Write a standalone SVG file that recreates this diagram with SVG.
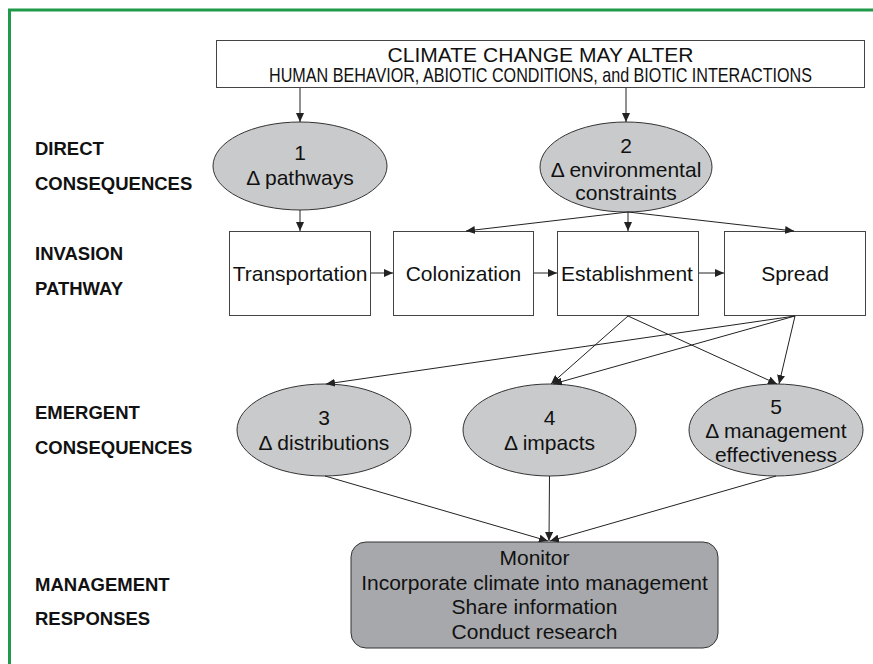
<svg xmlns="http://www.w3.org/2000/svg" width="873" height="664" viewBox="0 0 873 664">
<style>
  .lbl{font-family:"Liberation Sans",Arial,sans-serif;font-weight:bold;font-size:18.5px;fill:#111}
  .t{font-family:"Liberation Sans",Arial,sans-serif;font-size:21px;fill:#111;text-anchor:middle}
  .box{fill:#fff;stroke:#444;stroke-width:1}
  .ell{fill:#c9cacc;stroke:#333;stroke-width:1}
  .mgmt{fill:#a7a8ab;stroke:#333;stroke-width:1}
  .con line{stroke:#222;stroke-width:1;fill:none;marker-end:url(#ah)}
</style>
<defs>
  <marker id="ah" markerUnits="userSpaceOnUse" markerWidth="10" markerHeight="8" refX="9" refY="4" orient="auto">
    <path d="M0,0 L9,4 L0,8 z" fill="#222"/>
  </marker>
</defs>
<rect width="873" height="664" fill="#fff"/>
<path d="M9.5,664 V10 H873" fill="none" stroke="#1f9a4b" stroke-width="3"/>

<g id="labels">
  <text class="lbl" x="35" y="155">DIRECT</text>
  <text class="lbl" x="35" y="190">CONSEQUENCES</text>
  <text class="lbl" x="35" y="260">INVASION</text>
  <text class="lbl" x="35" y="295">PATHWAY</text>
  <text class="lbl" x="35" y="419">EMERGENT</text>
  <text class="lbl" x="35" y="454">CONSEQUENCES</text>
  <text class="lbl" x="35" y="591">MANAGEMENT</text>
  <text class="lbl" x="35" y="625">RESPONSES</text>
</g>

<g id="climate">
  <rect class="box" x="216.5" y="40.5" width="648" height="47"/>
  <text class="t" x="540.5" y="62" font-size="20" textLength="306" lengthAdjust="spacingAndGlyphs">CLIMATE CHANGE MAY ALTER</text>
  <text class="t" x="540.5" y="82" font-size="12" textLength="543" lengthAdjust="spacingAndGlyphs">HUMAN BEHAVIOR, ABIOTIC CONDITIONS, and BIOTIC INTERACTIONS</text>
</g>

<g id="e1">
  <ellipse class="ell" cx="300" cy="166" rx="87" ry="44"/>
  <text class="t" x="300" y="160">1</text>
  <text class="t" x="300" y="185">Δ pathways</text>
</g>
<g id="e2">
  <ellipse class="ell" cx="626" cy="167" rx="86" ry="45"/>
  <text class="t" x="626" y="153">2</text>
  <text class="t" x="626" y="177">Δ environmental</text>
  <text class="t" x="626" y="200">constraints</text>
</g>

<g id="transportation">
  <rect class="box" x="229.5" y="231.5" width="141" height="84"/>
  <text class="t" x="300" y="281">Transportation</text>
</g>
<g id="colonization">
  <rect class="box" x="393.5" y="231.5" width="140" height="84"/>
  <text class="t" x="463.5" y="281">Colonization</text>
</g>
<g id="establishment">
  <rect class="box" x="557.5" y="231.5" width="141" height="84"/>
  <text class="t" x="627" y="281">Establishment</text>
</g>
<g id="spread">
  <rect class="box" x="724.5" y="231.5" width="141" height="84"/>
  <text class="t" x="795" y="281">Spread</text>
</g>

<g id="e3">
  <ellipse class="ell" cx="324" cy="430" rx="87" ry="46"/>
  <text class="t" x="324" y="425">3</text>
  <text class="t" x="324" y="450">Δ distributions</text>
</g>
<g id="e4">
  <ellipse class="ell" cx="549.5" cy="430" rx="86.5" ry="46"/>
  <text class="t" x="549.5" y="425">4</text>
  <text class="t" x="549.5" y="450">Δ impacts</text>
</g>
<g id="e5">
  <ellipse class="ell" cx="776" cy="430" rx="87" ry="46"/>
  <text class="t" x="776" y="414">5</text>
  <text class="t" x="776" y="438">Δ management</text>
  <text class="t" x="776" y="462">effectiveness</text>
</g>

<g id="management">
  <rect class="mgmt" x="351" y="542" width="367" height="106" rx="15" ry="15"/>
  <text class="t" x="534.5" y="565" font-size="21.5">Monitor</text>
  <text class="t" x="534.5" y="589.5" font-size="21.5">Incorporate climate into management</text>
  <text class="t" x="534.5" y="614" font-size="21.5">Share information</text>
  <text class="t" x="534.5" y="638.5" font-size="21.5">Conduct research</text>
</g>

<g id="connectors" class="con">
  <line x1="300" y1="88" x2="300" y2="122"/>
  <line x1="626" y1="88" x2="626" y2="122"/>
  <line x1="300" y1="210" x2="300" y2="231"/>
  <line x1="628" y1="212" x2="466" y2="231"/>
  <line x1="628" y1="212" x2="628" y2="231"/>
  <line x1="628" y1="212" x2="794" y2="231"/>
  <line x1="371" y1="273" x2="393" y2="273"/>
  <line x1="534" y1="273" x2="557" y2="273"/>
  <line x1="699" y1="273" x2="724" y2="273"/>
  <line x1="628" y1="316" x2="551" y2="384"/>
  <line x1="628" y1="316" x2="777" y2="384"/>
  <line x1="795" y1="316" x2="326" y2="384"/>
  <line x1="795" y1="316" x2="553" y2="384"/>
  <line x1="795" y1="316" x2="779" y2="384"/>
  <line x1="325" y1="476" x2="548" y2="541"/>
  <line x1="549.5" y1="476" x2="549" y2="541"/>
  <line x1="776" y1="476" x2="550" y2="541"/>
</g>
</svg>
